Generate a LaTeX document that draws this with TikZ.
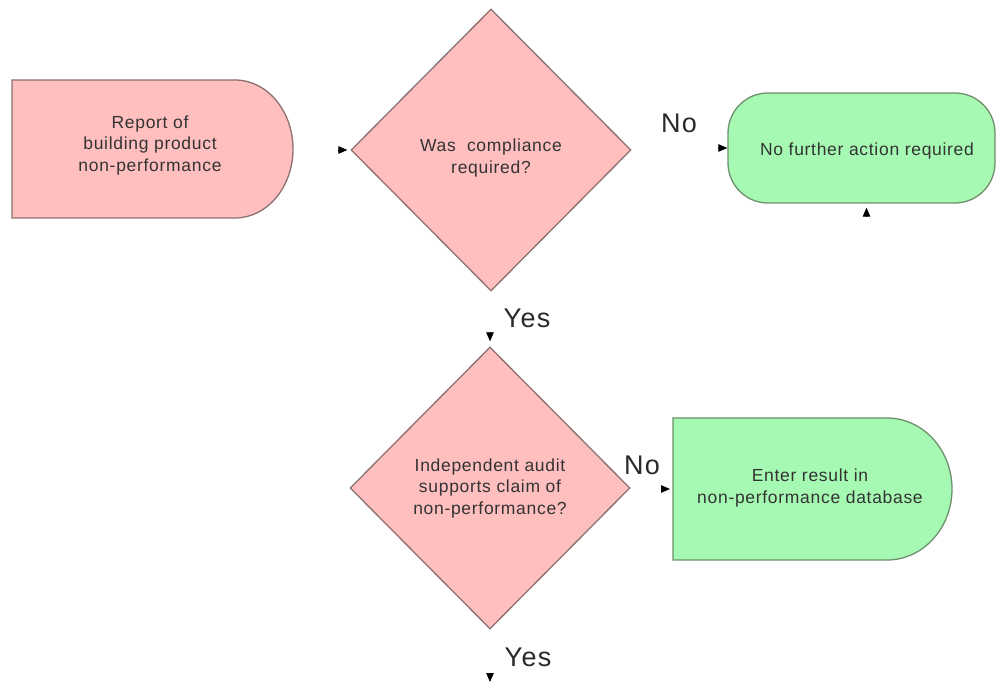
\documentclass[tikz,border=0pt]{standalone}
\usepackage{fontspec}
\setmainfont{Liberation Sans}
\newfontfamily\boxfont[LetterSpace=4]{Liberation Sans}
\newfontfamily\labelfont[LetterSpace=5]{Liberation Sans}
\usetikzlibrary{shapes.geometric,arrows.meta}

\definecolor{pinkF}{HTML}{FFBFBF}
\definecolor{pinkD}{HTML}{8C7070}
\definecolor{greenF}{HTML}{A6F9B2}
\definecolor{greenD}{HTML}{6E906E}
\definecolor{txtc}{HTML}{333333}
\definecolor{lblc}{HTML}{2A2A2A}

\tikzset{
  pinkfill/.style={fill=pinkF, draw=pinkD, line width=1.3pt},
  greenfill/.style={fill=greenF, draw=greenD, line width=1.3pt},
  decision/.style={diamond, pinkfill, minimum width=280pt, minimum height=282pt, inner sep=0pt},
  terminal/.style={rectangle, greenfill, rounded corners=40pt, minimum width=267pt, minimum height=110pt},
  frame/.style={rectangle, inner sep=0pt, outer sep=0pt},
  boxtext/.style={align=center, font=\boxfont\fontsize{17.5}{21.5}\selectfont, text=txtc},
  branchlabel/.style={font=\labelfont\fontsize{27}{30}\selectfont, text=lblc},
  tip/.style={-{Triangle[length=9pt,width=7.5pt]}, line width=0.8pt, black}
}

\begin{document}
\begin{tikzpicture}[x=1pt,y=1pt]
  \useasboundingbox[fill=white] (0,0) rectangle (996,683);

  % Report box (rectangle with a rounded right end)
  \node[frame, minimum width=281pt, minimum height=138pt] (b1) at (152.5,534) {};
  \draw[pinkfill] (b1.north west) -- ++(223,0)
      arc[start angle=90, end angle=-90, x radius=58, y radius=69]
      -- (b1.south west) -- cycle;
  \node[boxtext] (b1t) at (150,538) {Report of\\building product\\non-performance};

  % First decision
  \node[decision] (q1) at (491,533) {};
  \node[boxtext] (q1t) at (491,525) {Was\ \ compliance\\required?};

  % Terminal: no further action
  \node[terminal] (t1) at (861.5,535) {};
  \node[boxtext] (t1t) at (867,532) {No further action required};

  % Second decision
  \node[decision] (q2) at (490,195) {};
  \node[boxtext] (q2t) at (490,195) {Independent audit\\supports claim of\\non-performance?};

  % Database entry box (rectangle with a rounded right end)
  \node[frame, minimum width=279pt, minimum height=142pt] (b2) at (812.5,194) {};
  \draw[greenfill] (b2.north west) -- ++(214,0)
      arc[start angle=90, end angle=-90, x radius=65, y radius=71]
      -- (b2.south west) -- cycle;
  \node[boxtext] (b2t) at (810,195) {Enter result in\\non-performance database};

  % Branch labels
  \node[branchlabel] (no1) at (679,560) {No};
  \node[branchlabel] (yes1) at (527,365) {Yes};
  \node[branchlabel] (no2) at (642,218) {No};
  \node[branchlabel] (yes2) at (528,26) {Yes};

  % Arrowheads of the connectors
  \draw[tip, shorten >=3pt] ([xshift=-12pt]q1.west) -- (q1.west);
  \draw[tip] ([xshift=-9pt]t1.west) -- (t1.west);
  \draw[tip, shorten >=4pt] ([shift={(5pt,-13pt)}]t1.south) -- ([xshift=5pt]t1.south);
  \draw[tip, shorten >=5pt] ([yshift=14pt]q2.north) -- (q2.north);
  \draw[tip, shorten >=3pt] ([xshift=-12pt]b2.west) -- (b2.west);
  \coordinate (out2) at (490,1);
  \draw[tip] ([yshift=9pt]out2) -- (out2);
\end{tikzpicture}
\end{document}
